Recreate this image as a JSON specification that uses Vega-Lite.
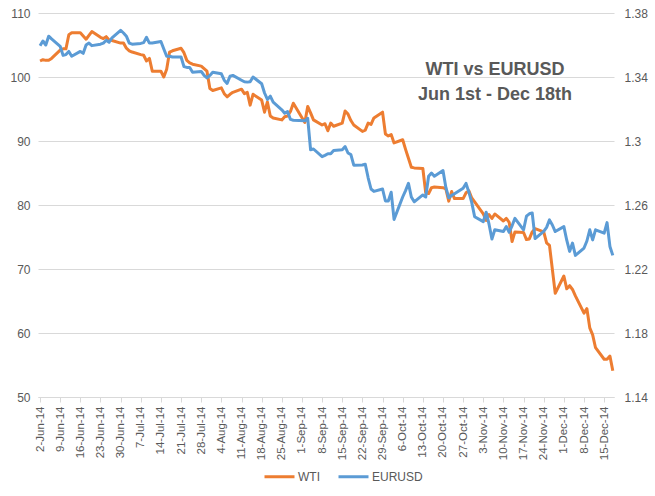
{
  "$schema": "https://vega.github.io/schema/vega-lite/v6.json",
  "width": 576,
  "height": 384,
  "autosize": "none",
  "padding": {"left": 38, "top": 13, "right": 41, "bottom": 99},
  "background": "white",
  "config": {
    "view": {"stroke": null},
    "font": "Liberation Sans",
    "axis": {
      "labelColor": "#595959",
      "labelFont": "Liberation Sans",
      "gridColor": "#d9d9d9",
      "domainColor": "#d9d9d9",
      "tickColor": "#d9d9d9"
    }
  },
  "title": {
    "text": ["WTI vs EURUSD", "Jun 1st - Dec 18th"],
    "font": "Liberation Sans",
    "fontSize": 18,
    "fontWeight": "bold",
    "color": "#595959",
    "lineHeight": 25,
    "anchor": "middle",
    "baseline": "top",
    "dx": 169,
    "offset": -97
  },
  "data": {
    "values": [
      {"date": "2014/06/02", "WTI": 102.5, "EURUSD": 1.3595},
      {"date": "2014/06/03", "WTI": 102.7, "EURUSD": 1.3625},
      {"date": "2014/06/04", "WTI": 102.6, "EURUSD": 1.3600},
      {"date": "2014/06/05", "WTI": 102.6, "EURUSD": 1.3655},
      {"date": "2014/06/06", "WTI": 102.9, "EURUSD": 1.3638},
      {"date": "2014/06/09", "WTI": 104.2, "EURUSD": 1.3592},
      {"date": "2014/06/10", "WTI": 104.4, "EURUSD": 1.3535},
      {"date": "2014/06/11", "WTI": 104.4, "EURUSD": 1.3540},
      {"date": "2014/06/12", "WTI": 106.6, "EURUSD": 1.3560},
      {"date": "2014/06/13", "WTI": 106.9, "EURUSD": 1.3530},
      {"date": "2014/06/16", "WTI": 106.9, "EURUSD": 1.3560},
      {"date": "2014/06/17", "WTI": 106.4, "EURUSD": 1.3548},
      {"date": "2014/06/18", "WTI": 105.9, "EURUSD": 1.3600},
      {"date": "2014/06/19", "WTI": 106.5, "EURUSD": 1.3612},
      {"date": "2014/06/20", "WTI": 107.1, "EURUSD": 1.3596},
      {"date": "2014/06/23", "WTI": 106.2, "EURUSD": 1.3605},
      {"date": "2014/06/24", "WTI": 106.0, "EURUSD": 1.3612},
      {"date": "2014/06/25", "WTI": 106.3, "EURUSD": 1.3630},
      {"date": "2014/06/26", "WTI": 105.8, "EURUSD": 1.3617},
      {"date": "2014/06/27", "WTI": 105.7, "EURUSD": 1.3645},
      {"date": "2014/06/30", "WTI": 105.3, "EURUSD": 1.3692},
      {"date": "2014/07/01", "WTI": 105.3, "EURUSD": 1.3675},
      {"date": "2014/07/02", "WTI": 104.5, "EURUSD": 1.3655},
      {"date": "2014/07/03", "WTI": 104.1, "EURUSD": 1.3612},
      {"date": "2014/07/04", "WTI": 103.9, "EURUSD": 1.3605},
      {"date": "2014/07/07", "WTI": 103.5, "EURUSD": 1.3610},
      {"date": "2014/07/08", "WTI": 103.4, "EURUSD": 1.3615},
      {"date": "2014/07/09", "WTI": 102.5, "EURUSD": 1.3648},
      {"date": "2014/07/10", "WTI": 102.9, "EURUSD": 1.3612},
      {"date": "2014/07/11", "WTI": 100.9, "EURUSD": 1.3612},
      {"date": "2014/07/14", "WTI": 100.9, "EURUSD": 1.3622},
      {"date": "2014/07/15", "WTI": 100.0, "EURUSD": 1.3575},
      {"date": "2014/07/16", "WTI": 101.2, "EURUSD": 1.3530},
      {"date": "2014/07/17", "WTI": 103.9, "EURUSD": 1.3530},
      {"date": "2014/07/18", "WTI": 104.1, "EURUSD": 1.3525},
      {"date": "2014/07/21", "WTI": 104.5, "EURUSD": 1.3525},
      {"date": "2014/07/22", "WTI": 103.8, "EURUSD": 1.3465},
      {"date": "2014/07/23", "WTI": 102.6, "EURUSD": 1.3460},
      {"date": "2014/07/24", "WTI": 102.2, "EURUSD": 1.3460},
      {"date": "2014/07/25", "WTI": 102.0, "EURUSD": 1.3430},
      {"date": "2014/07/28", "WTI": 101.7, "EURUSD": 1.3435},
      {"date": "2014/07/29", "WTI": 101.3, "EURUSD": 1.3410},
      {"date": "2014/07/30", "WTI": 100.9, "EURUSD": 1.3394},
      {"date": "2014/07/31", "WTI": 98.2, "EURUSD": 1.3410},
      {"date": "2014/08/01", "WTI": 97.9, "EURUSD": 1.3430},
      {"date": "2014/08/04", "WTI": 98.3, "EURUSD": 1.3420},
      {"date": "2014/08/05", "WTI": 97.4, "EURUSD": 1.3380},
      {"date": "2014/08/06", "WTI": 96.9, "EURUSD": 1.3360},
      {"date": "2014/08/07", "WTI": 97.3, "EURUSD": 1.3405},
      {"date": "2014/08/08", "WTI": 97.6, "EURUSD": 1.3410},
      {"date": "2014/08/11", "WTI": 98.1, "EURUSD": 1.3380},
      {"date": "2014/08/12", "WTI": 97.4, "EURUSD": 1.3370},
      {"date": "2014/08/13", "WTI": 97.6, "EURUSD": 1.3368},
      {"date": "2014/08/14", "WTI": 95.6, "EURUSD": 1.3370},
      {"date": "2014/08/15", "WTI": 97.3, "EURUSD": 1.3400},
      {"date": "2014/08/18", "WTI": 96.4, "EURUSD": 1.3358},
      {"date": "2014/08/19", "WTI": 94.5, "EURUSD": 1.3300},
      {"date": "2014/08/20", "WTI": 96.1, "EURUSD": 1.3260},
      {"date": "2014/08/21", "WTI": 93.9, "EURUSD": 1.3280},
      {"date": "2014/08/22", "WTI": 93.6, "EURUSD": 1.3243},
      {"date": "2014/08/25", "WTI": 93.3, "EURUSD": 1.3195},
      {"date": "2014/08/26", "WTI": 93.8, "EURUSD": 1.3174},
      {"date": "2014/08/27", "WTI": 93.9, "EURUSD": 1.3184},
      {"date": "2014/08/28", "WTI": 94.6, "EURUSD": 1.3135},
      {"date": "2014/08/29", "WTI": 95.9, "EURUSD": 1.3130},
      {"date": "2014/09/02", "WTI": 92.9, "EURUSD": 1.3126},
      {"date": "2014/09/03", "WTI": 95.4, "EURUSD": 1.3142},
      {"date": "2014/09/04", "WTI": 94.4, "EURUSD": 1.2945},
      {"date": "2014/09/05", "WTI": 93.3, "EURUSD": 1.2950},
      {"date": "2014/09/08", "WTI": 92.5, "EURUSD": 1.2902},
      {"date": "2014/09/09", "WTI": 92.7, "EURUSD": 1.2910},
      {"date": "2014/09/10", "WTI": 91.6, "EURUSD": 1.2920},
      {"date": "2014/09/11", "WTI": 92.8, "EURUSD": 1.2920},
      {"date": "2014/09/12", "WTI": 92.3, "EURUSD": 1.2940},
      {"date": "2014/09/15", "WTI": 92.8, "EURUSD": 1.2945},
      {"date": "2014/09/16", "WTI": 94.7, "EURUSD": 1.2965},
      {"date": "2014/09/17", "WTI": 94.2, "EURUSD": 1.2925},
      {"date": "2014/09/18", "WTI": 93.2, "EURUSD": 1.2915},
      {"date": "2014/09/19", "WTI": 92.5, "EURUSD": 1.2849},
      {"date": "2014/09/22", "WTI": 91.5, "EURUSD": 1.2850},
      {"date": "2014/09/23", "WTI": 91.7, "EURUSD": 1.2855},
      {"date": "2014/09/24", "WTI": 92.8, "EURUSD": 1.2770},
      {"date": "2014/09/25", "WTI": 92.6, "EURUSD": 1.2700},
      {"date": "2014/09/26", "WTI": 93.6, "EURUSD": 1.2685},
      {"date": "2014/09/29", "WTI": 94.5, "EURUSD": 1.2700},
      {"date": "2014/09/30", "WTI": 91.1, "EURUSD": 1.2625},
      {"date": "2014/10/01", "WTI": 90.8, "EURUSD": 1.2625},
      {"date": "2014/10/02", "WTI": 91.0, "EURUSD": 1.2680},
      {"date": "2014/10/03", "WTI": 89.7, "EURUSD": 1.2510},
      {"date": "2014/10/06", "WTI": 90.2, "EURUSD": 1.2650},
      {"date": "2014/10/07", "WTI": 88.7, "EURUSD": 1.2690},
      {"date": "2014/10/08", "WTI": 87.3, "EURUSD": 1.2735},
      {"date": "2014/10/09", "WTI": 85.9, "EURUSD": 1.2650},
      {"date": "2014/10/10", "WTI": 85.8, "EURUSD": 1.2620},
      {"date": "2014/10/13", "WTI": 85.7, "EURUSD": 1.2663},
      {"date": "2014/10/14", "WTI": 81.9, "EURUSD": 1.2650},
      {"date": "2014/10/15", "WTI": 81.8, "EURUSD": 1.2780},
      {"date": "2014/10/16", "WTI": 82.7, "EURUSD": 1.2800},
      {"date": "2014/10/17", "WTI": 82.8, "EURUSD": 1.2780},
      {"date": "2014/10/20", "WTI": 82.7, "EURUSD": 1.2815},
      {"date": "2014/10/21", "WTI": 82.5, "EURUSD": 1.2710},
      {"date": "2014/10/22", "WTI": 80.6, "EURUSD": 1.2645},
      {"date": "2014/10/23", "WTI": 82.1, "EURUSD": 1.2660},
      {"date": "2014/10/24", "WTI": 81.0, "EURUSD": 1.2670},
      {"date": "2014/10/27", "WTI": 81.0, "EURUSD": 1.2705},
      {"date": "2014/10/28", "WTI": 81.9, "EURUSD": 1.2735},
      {"date": "2014/10/29", "WTI": 82.2, "EURUSD": 1.2680},
      {"date": "2014/10/30", "WTI": 81.1, "EURUSD": 1.2615},
      {"date": "2014/10/31", "WTI": 80.5, "EURUSD": 1.2527},
      {"date": "2014/11/03", "WTI": 78.6, "EURUSD": 1.2496},
      {"date": "2014/11/04", "WTI": 77.6, "EURUSD": 1.2555},
      {"date": "2014/11/05", "WTI": 78.5, "EURUSD": 1.2480},
      {"date": "2014/11/06", "WTI": 77.9, "EURUSD": 1.2387},
      {"date": "2014/11/07", "WTI": 78.6, "EURUSD": 1.2445},
      {"date": "2014/11/10", "WTI": 77.5, "EURUSD": 1.2434},
      {"date": "2014/11/11", "WTI": 77.9, "EURUSD": 1.2465},
      {"date": "2014/11/12", "WTI": 77.3, "EURUSD": 1.2430},
      {"date": "2014/11/13", "WTI": 74.3, "EURUSD": 1.2470},
      {"date": "2014/11/14", "WTI": 75.8, "EURUSD": 1.2517},
      {"date": "2014/11/17", "WTI": 75.7, "EURUSD": 1.2445},
      {"date": "2014/11/18", "WTI": 74.6, "EURUSD": 1.2530},
      {"date": "2014/11/19", "WTI": 74.7, "EURUSD": 1.2545},
      {"date": "2014/11/20", "WTI": 75.8, "EURUSD": 1.2550},
      {"date": "2014/11/21", "WTI": 76.3, "EURUSD": 1.2390},
      {"date": "2014/11/24", "WTI": 75.8, "EURUSD": 1.2435},
      {"date": "2014/11/25", "WTI": 74.1, "EURUSD": 1.2460},
      {"date": "2014/11/26", "WTI": 73.7, "EURUSD": 1.2507},
      {"date": "2014/11/27", "WTI": null, "EURUSD": 1.2475},
      {"date": "2014/11/28", "WTI": 66.2, "EURUSD": 1.2434},
      {"date": "2014/12/01", "WTI": 68.9, "EURUSD": 1.2465},
      {"date": "2014/12/02", "WTI": 66.9, "EURUSD": 1.2380},
      {"date": "2014/12/03", "WTI": 67.4, "EURUSD": 1.2310},
      {"date": "2014/12/04", "WTI": 66.8, "EURUSD": 1.2362},
      {"date": "2014/12/05", "WTI": 65.8, "EURUSD": 1.2285},
      {"date": "2014/12/08", "WTI": 63.1, "EURUSD": 1.2331},
      {"date": "2014/12/09", "WTI": 63.8, "EURUSD": 1.2375},
      {"date": "2014/12/10", "WTI": 60.8, "EURUSD": 1.2445},
      {"date": "2014/12/11", "WTI": 59.7, "EURUSD": 1.2382},
      {"date": "2014/12/12", "WTI": 57.7, "EURUSD": 1.2445},
      {"date": "2014/12/15", "WTI": 55.9, "EURUSD": 1.2424},
      {"date": "2014/12/16", "WTI": 55.9, "EURUSD": 1.2490},
      {"date": "2014/12/17", "WTI": 56.4, "EURUSD": 1.2341},
      {"date": "2014/12/18", "WTI": 54.1, "EURUSD": 1.2285}
    ]
  },
  "encoding": {
    "x": {
      "field": "date",
      "type": "temporal",
      "scale": {
        "domain": [
          {"year": 2014, "month": 6, "date": 1, "hours": 7},
          {"year": 2014, "month": 12, "date": 18, "hours": 10}
        ]
      },
      "axis": {
        "title": null,
        "grid": false,
        "format": "%-d-%b-%y",
        "labelAngle": -90,
        "labelFontSize": 11.5,
        "labelPadding": 4,
        "tickSize": 5,
        "labelFlush": false,
        "labelOverlap": false,
        "values": [
          {"year": 2014, "month": 6, "date": 2},
          {"year": 2014, "month": 6, "date": 9},
          {"year": 2014, "month": 6, "date": 16},
          {"year": 2014, "month": 6, "date": 23},
          {"year": 2014, "month": 6, "date": 30},
          {"year": 2014, "month": 7, "date": 7},
          {"year": 2014, "month": 7, "date": 14},
          {"year": 2014, "month": 7, "date": 21},
          {"year": 2014, "month": 7, "date": 28},
          {"year": 2014, "month": 8, "date": 4},
          {"year": 2014, "month": 8, "date": 11},
          {"year": 2014, "month": 8, "date": 18},
          {"year": 2014, "month": 8, "date": 25},
          {"year": 2014, "month": 9, "date": 1},
          {"year": 2014, "month": 9, "date": 8},
          {"year": 2014, "month": 9, "date": 15},
          {"year": 2014, "month": 9, "date": 22},
          {"year": 2014, "month": 9, "date": 29},
          {"year": 2014, "month": 10, "date": 6},
          {"year": 2014, "month": 10, "date": 13},
          {"year": 2014, "month": 10, "date": 20},
          {"year": 2014, "month": 10, "date": 27},
          {"year": 2014, "month": 11, "date": 3},
          {"year": 2014, "month": 11, "date": 10},
          {"year": 2014, "month": 11, "date": 17},
          {"year": 2014, "month": 11, "date": 24},
          {"year": 2014, "month": 12, "date": 1},
          {"year": 2014, "month": 12, "date": 8},
          {"year": 2014, "month": 12, "date": 15}
        ]
      }
    }
  },
  "layer": [
    {
      "transform": [{"filter": "isValid(datum.WTI)"}],
      "mark": {"type": "line", "strokeWidth": 3, "strokeJoin": "round"},
      "encoding": {
        "y": {
          "field": "WTI",
          "type": "quantitative",
          "scale": {"domain": [50, 110]},
          "axis": {
            "orient": "left",
            "title": null,
            "values": [50, 60, 70, 80, 90, 100, 110],
            "grid": true,
            "domain": false,
            "ticks": false,
            "labelFontSize": 12,
            "labelPadding": 8
          }
        },
        "color": {
          "datum": "WTI",
          "type": "nominal",
          "scale": {"domain": ["WTI", "EURUSD"], "range": ["#ED7D31", "#5B9BD5"]},
          "legend": {
            "title": null,
            "orient": "none",
            "legendX": 225,
            "legendY": 447,
            "direction": "horizontal",
            "symbolType": "stroke",
            "symbolSize": 900,
            "symbolStrokeWidth": 3,
            "labelFontSize": 12,
            "labelColor": "#595959",
            "labelOffset": 2,
            "columnPadding": 12
          }
        }
      }
    },
    {
      "mark": {"type": "line", "strokeWidth": 3, "strokeJoin": "round"},
      "encoding": {
        "y": {
          "field": "EURUSD",
          "type": "quantitative",
          "scale": {"domain": [1.14, 1.38]},
          "axis": {
            "orient": "right",
            "title": null,
            "values": [1.14, 1.18, 1.22, 1.26, 1.3, 1.34, 1.38],
            "format": ".2~f",
            "grid": false,
            "domain": false,
            "ticks": false,
            "labelFontSize": 12,
            "labelPadding": 10
          }
        },
        "color": {"datum": "EURUSD", "type": "nominal"}
      }
    }
  ],
  "resolve": {"scale": {"y": "independent"}}
}
